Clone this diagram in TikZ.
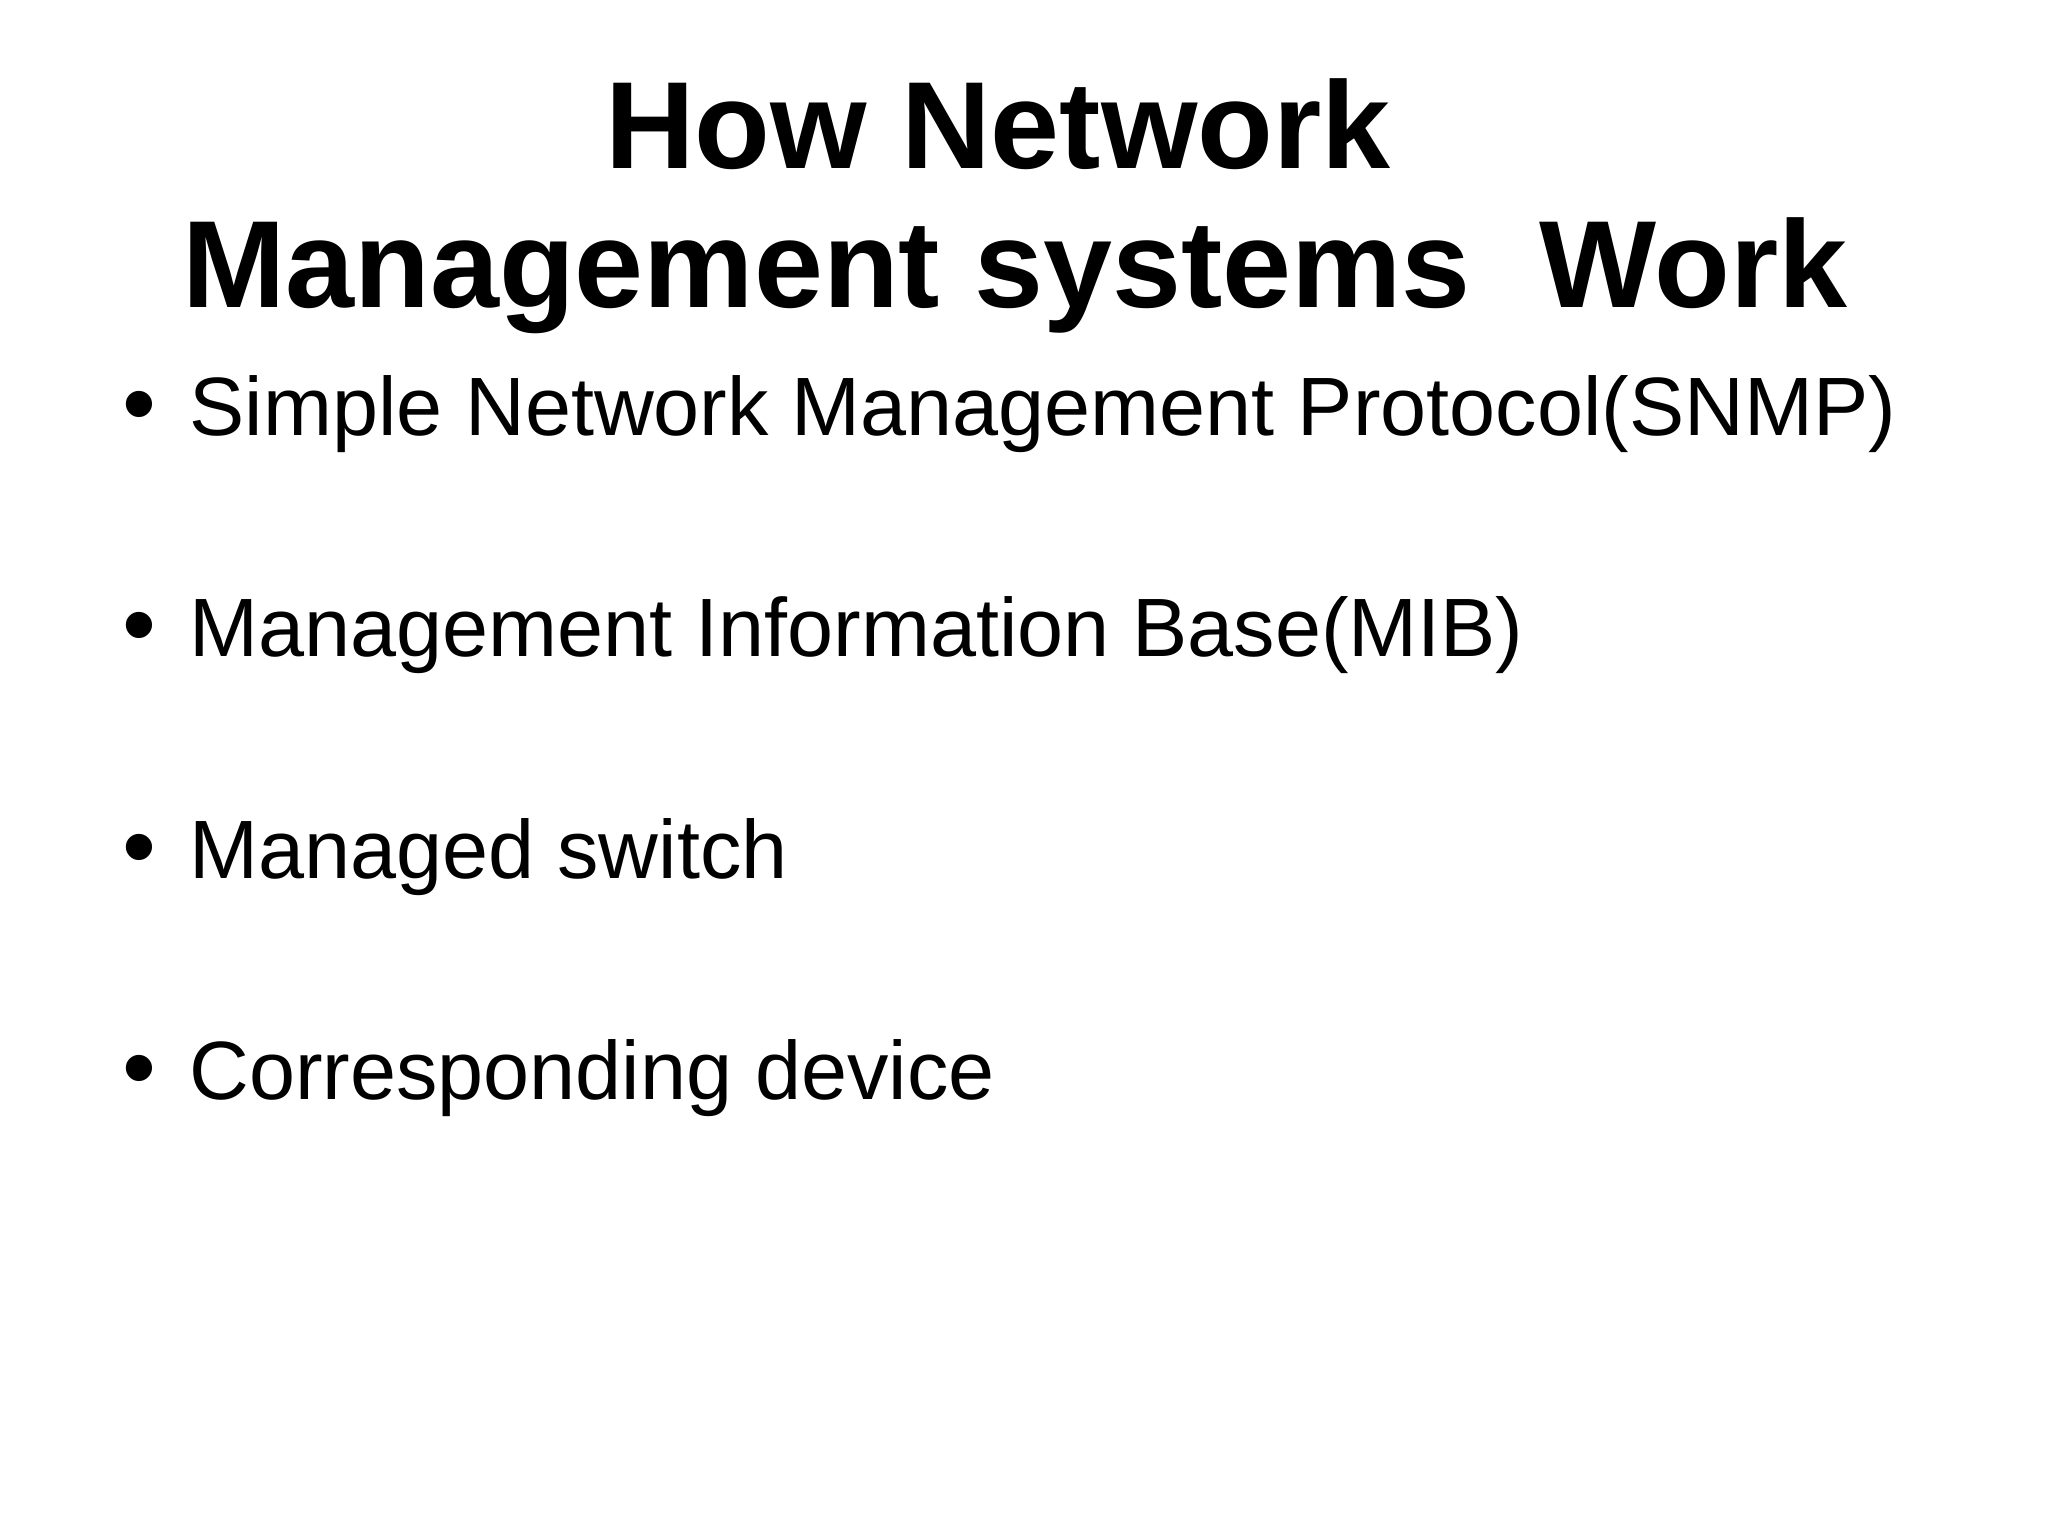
\documentclass[tikz,border=0pt]{standalone}
\usepackage{fontspec}
\setmainfont{Liberation Sans}
\begin{document}
\begin{tikzpicture}[x=0.3516pt,y=-0.3516pt,
  titletext/.style={inner sep=0pt,anchor=base,font=\bfseries\fontsize{43.6pt}{49pt}\selectfont},
  bodytext/.style={inner sep=0pt,anchor=base west,font=\fontsize{29.1pt}{35pt}\selectfont},
  bulletmark/.style={inner sep=0pt,anchor=base west,font=\fontsize{34pt}{40pt}\selectfont}]
\useasboundingbox[fill=white] (0,0) rectangle (2048,1535);
\node[titletext] (title1) at (998,168) {How Network};
\node[titletext] (title2) at (1015,307) {Management systems\ \ Work};
\foreach \y/\t/\n in {435/{Simple Network Management Protocol(SNMP)}/a,
                      656/{Management Information Base(MIB)}/b,
                      878/{Managed switch}/c,
                      1099/{Corresponding device}/d}{
  \node[bulletmark] (bul\n) at (121.5,\y+1) {•};
  \node[bodytext] (item\n) at (189,\y) {\t};
}
\end{tikzpicture}
\end{document}
